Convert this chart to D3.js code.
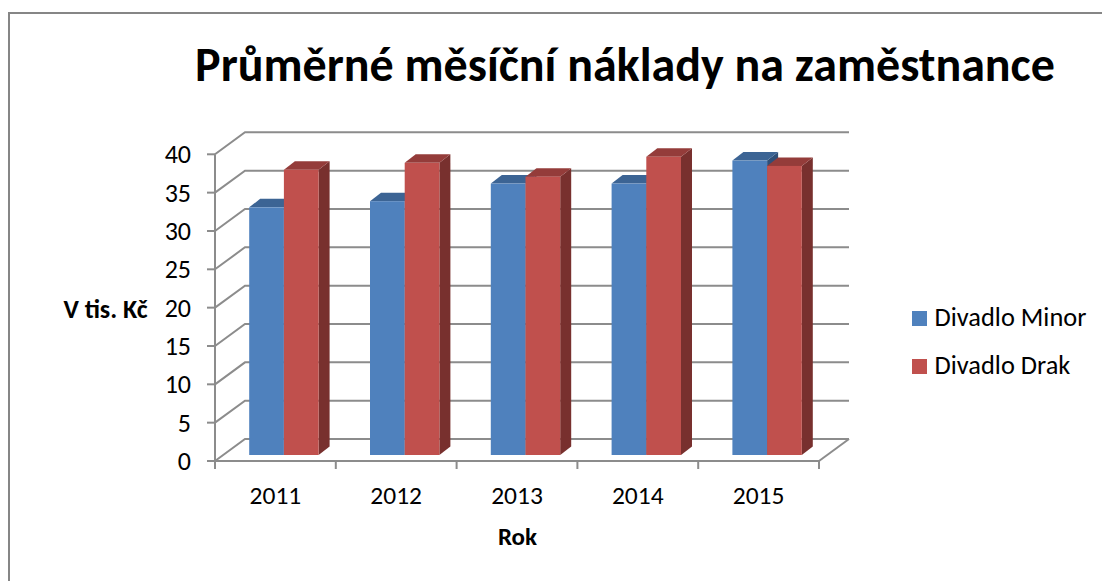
<!DOCTYPE html>
<html><head><meta charset="utf-8">
<script src="https://cdn.jsdelivr.net/npm/d3@7"></script>
<style>html,body{margin:0;background:#fff}svg{display:block}text{font-family:Carlito,Lato,"Open Sans","Noto Sans",sans-serif;fill:#000}</style>
</head><body><svg width="1102" height="581"></svg>
<script>
const years=["2011","2012","2013","2014","2015"];
const seriesNames=["Divadlo Minor","Divadlo Drak"];
const minor=[32.3,33.1,35.4,35.4,38.4];
const drak=[37.2,38.1,36.3,38.9,37.7];
const yTicks=[0,5,10,15,20,25,30,35,40];
const colors=[{f:"#4f81bd",t:"#3c6494",s:"#2f4f78"},{f:"#c0504d",t:"#943c3a",s:"#78302e"}];
const grid="#8c8c8c";
const svg=d3.select("svg");
svg.append("path").attr("d","M9,581V13H1102").attr("fill","none").attr("stroke","#868686").attr("stroke-width",2);
const y=d3.scaleLinear().domain([0,40]).range([461,154.3]);
const x=d3.scaleBand().domain(years).range([215,819]);
const dX=30,dY=-22;
const g=svg.append("g").attr("fill","none").attr("stroke",grid).attr("stroke-width",2);
yTicks.forEach(t=>{
  g.append("path").attr("d",`M${215},${y(t)}L${215+dX},${y(t)+dY}L${849},${y(t)+dY}`);
  g.append("line").attr("x1",207).attr("x2",215).attr("y1",y(t)).attr("y2",y(t));
});
g.append("line").attr("x1",215).attr("x2",215).attr("y1",y(40)).attr("y2",469);
g.append("line").attr("x1",215).attr("x2",819).attr("y1",y(0)).attr("y2",y(0));
g.append("line").attr("x1",819).attr("x2",849).attr("y1",y(0)).attr("y2",y(0)+dY);
[...years.map(d=>x(d)),819].forEach(v=>g.append("line").attr("x1",v).attr("x2",v).attr("y1",y(0)).attr("y2",469));
const off=8.5,oy=-6,bw=34.7,bdx=11,bdy=-8.5;
const bars=svg.append("g");
years.forEach((yr,i)=>{
  const c=x(yr)+x.bandwidth()/2+off;
  [minor[i],drak[i]].forEach((v,k)=>{
    const x0=c-bw+k*bw,x1=x0+bw,top=y(v)+oy,bot=y(0)+oy,col=colors[k];
    bars.append("path").attr("fill",col.s).attr("d",`M${x1},${top}L${x1+bdx},${top+bdy}L${x1+bdx},${bot+bdy}L${x1},${bot}Z`);
    bars.append("path").attr("fill",col.t).attr("d",`M${x0},${top}L${x0+bdx},${top+bdy}L${x1+bdx},${top+bdy}L${x1},${top}Z`);
    bars.append("rect").attr("fill",col.f).attr("x",x0).attr("y",top).attr("width",bw).attr("height",bot-top);
  });
});
svg.append("g").selectAll("text").data(yTicks).join("text").attr("x",191).attr("y",d=>y(d)+9).attr("text-anchor","end").attr("font-size",26).text(d=>d);
svg.append("g").selectAll("text").data(years).join("text").attr("x",d=>x(d)+x.bandwidth()/2).attr("y",504).attr("text-anchor","middle").attr("font-size",25.5).text(d=>d);
svg.append("text").attr("x",625).attr("y",81).attr("text-anchor","middle").attr("font-size",48).attr("font-weight",700).text("Průměrné měsíční náklady na zaměstnance");
svg.append("text").attr("x",105.5).attr("y",318).attr("text-anchor","middle").attr("font-size",26).attr("font-weight",700).text("V tis. Kč");
svg.append("text").attr("x",517.5).attr("y",545).attr("text-anchor","middle").attr("font-size",25).attr("font-weight",700).text("Rok");
seriesNames.forEach((n,i)=>{
  const yy=326+i*48;
  svg.append("rect").attr("x",912).attr("y",yy-15).attr("width",15).attr("height",15).attr("fill",colors[i].f);
  svg.append("text").attr("x",934.5).attr("y",yy).attr("font-size",26.4).text(n);
});
</script></body></html>
